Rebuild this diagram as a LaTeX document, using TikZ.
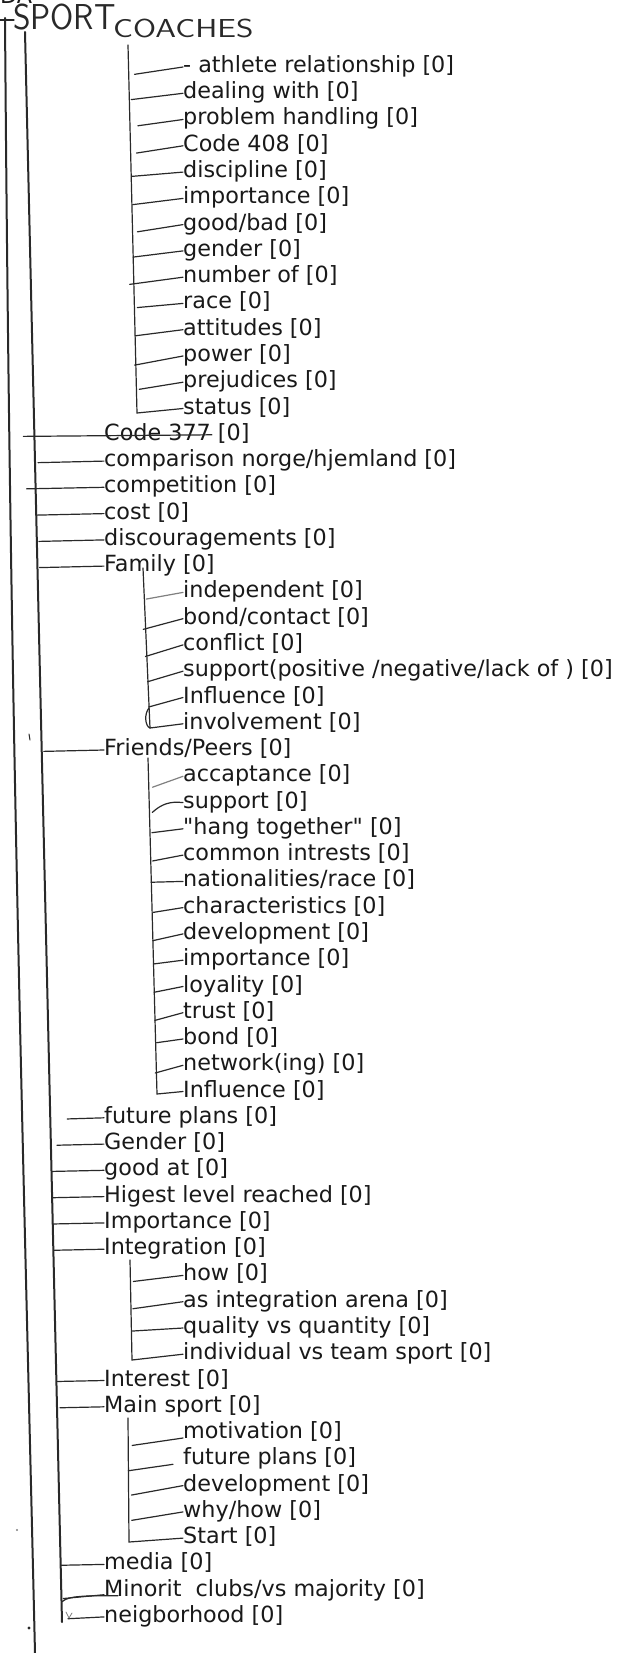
\documentclass[tikz,border=0pt]{standalone}
\usepackage{fontspec}
\setmainfont{DejaVu Sans}[Ligatures=TeXOff]
\usetikzlibrary{calc}
\definecolor{ink}{gray}{0.1}
\definecolor{pencil}{gray}{0.16}
\definecolor{faint}{gray}{0.5}

\tikzset{
  lbl/.style={anchor=west, inner sep=0pt, text height=16pt, text depth=5pt,
    text=ink, font=\fontsize{22.3}{26}\selectfont},
  hand/.style={anchor=base west, inner sep=0pt, text=pencil},
  pen/.style={draw=pencil, line width=1.2pt, line cap=round},
  spine/.style={draw=pencil, line width=2pt, line cap=round}
}

\begin{document}
\begin{tikzpicture}[x=1pt, y=-1pt]
        \fill[white] (0,0) rectangle (619,1653);
        \useasboundingbox (0,0) rectangle (619,1653);

        % handwritten heads
        \node[lbl, anchor=base west] (da) at (0,4) {DA};
        \node[hand, font=\fontsize{36}{36}\sffamily] (sport) at (13,30) {\scalebox{0.93}[1]{SPORT}};
        \node[hand, font=\fontsize{26}{26}\sffamily] (coaches) at (113,38) {\scalebox{1.28}[1]{COACHES}};

        % coaches
        \node[lbl] (ath) at (183,67) {- athlete relationship [0]};
        \node[lbl] (deal) at (183,93.3) {dealing with [0]};
        \node[lbl] (probl) at (183,119.5) {problem handling [0]};
        \node[lbl] (c408) at (183,145.8) {Code 408 [0]};
        \node[lbl] (disc) at (183,172.1) {discipline [0]};
        \node[lbl] (cimp) at (183,198.4) {importance [0]};
        \node[lbl] (goodbad) at (183,224.6) {good/bad [0]};
        \node[lbl] (cgender) at (183,250.9) {gender [0]};
        \node[lbl] (numof) at (183,277.2) {number of [0]};
        \node[lbl] (race) at (183,303.4) {race [0]};
        \node[lbl] (att) at (183,329.7) {attitudes [0]};
        \node[lbl] (power) at (183,356) {power [0]};
        \node[lbl] (prej) at (183,382.2) {prejudices [0]};
        \node[lbl] (status) at (183,408.5) {status [0]};

        \node[lbl] (c377) at (104,434.8) {Code 377 [0]};
        \node[lbl] (compar) at (104,461.1) {comparison norge/hjemland [0]};
        \node[lbl] (compet) at (104,487.3) {competition [0]};
        \node[lbl] (cost) at (104,513.6) {cost [0]};
        \node[lbl] (discour) at (104,539.9) {discouragements [0]};
        \node[lbl] (family) at (104,566.1) {Family [0]};

        % family
        \node[lbl] (indep) at (183,592.4) {independent [0]};
        \node[lbl] (bondc) at (183,618.7) {bond/contact [0]};
        \node[lbl] (confl) at (183,644.9) {conflict [0]};
        \node[lbl] (fsupp) at (183,671.2) {support(positive /negative/lack of ) [0]};
        \node[lbl] (finfl) at (183,697.5) {Influence [0]};
        \node[lbl] (involv) at (183,723.8) {involvement [0]};

        \node[lbl] (friends) at (104,750) {Friends/Peers [0]};

        % friends/peers
        \node[lbl] (accept) at (183,776.3) {accaptance [0]};
        \node[lbl] (psupp) at (183,802.6) {support [0]};
        \node[lbl] (hang) at (183,828.8) {"hang together" [0]};
        \node[lbl] (common) at (183,855.1) {common intrests [0]};
        \node[lbl] (nation) at (183,881.4) {nationalities/race [0]};
        \node[lbl] (charac) at (183,907.6) {characteristics [0]};
        \node[lbl] (pdevel) at (183,933.9) {development [0]};
        \node[lbl] (pimp) at (183,960.2) {importance [0]};
        \node[lbl] (loyal) at (183,986.5) {loyality [0]};
        \node[lbl] (trust) at (183,1012.7) {trust [0]};
        \node[lbl] (bond) at (183,1039) {bond [0]};
        \node[lbl] (netw) at (183,1065.3) {network(ing) [0]};
        \node[lbl] (pinfl) at (183,1091.5) {Influence [0]};

        \node[lbl] (future) at (104,1117.8) {future plans [0]};
        \node[lbl] (gender) at (104,1144.1) {Gender [0]};
        \node[lbl] (goodat) at (104,1170.3) {good at [0]};
        \node[lbl] (higest) at (104,1196.6) {Higest level reached [0]};
        \node[lbl] (import) at (104,1222.9) {Importance [0]};
        \node[lbl] (integ) at (104,1249.2) {Integration [0]};

        % integration
        \node[lbl] (how) at (183,1275.4) {how [0]};
        \node[lbl] (arena) at (183,1301.7) {as integration arena [0]};
        \node[lbl] (quality) at (183,1328) {quality vs quantity [0]};
        \node[lbl] (indiv) at (183,1354.2) {individual vs team sport [0]};

        \node[lbl] (interest) at (104,1380.5) {Interest [0]};
        \node[lbl] (mainsp) at (104,1406.8) {Main sport [0]};

        % main sport
        \node[lbl] (motiv) at (183,1433) {motivation [0]};
        \node[lbl] (mfuture) at (183,1459.3) {future plans [0]};
        \node[lbl] (mdevel) at (183,1485.6) {development [0]};
        \node[lbl] (whyhow) at (183,1511.9) {why/how [0]};
        \node[lbl] (start) at (183,1538.1) {Start [0]};

        \node[lbl] (media) at (104,1564.4) {media [0]};
        \node[lbl] (minorit) at (104,1590.7) {Minorit\ \ clubs/vs majority [0]};
        \node[lbl] (neigh) at (104,1616.9) {neigborhood [0]};

        % pen strokes
        \coordinate (l0a) at (5,18);
        \coordinate (l0b) at (35,1653);
        \coordinate (l1a) at (25,32);
        \coordinate (l1b) at (62,1622);
        \coordinate (ca) at (128,45);
        \coordinate (cb) at (137,413);
        \coordinate (fa) at (143,568);
        \coordinate (fb) at (150,728);
        \coordinate (pa) at (148,758);
        \coordinate (pb) at (157,1094);
        \coordinate (ia) at (130,1260);
        \coordinate (ib) at (132,1360);
        \coordinate (ma) at (128,1418);
        \coordinate (mb) at (129,1542);

        \draw[spine] (l0a) .. controls (10,700) and (22,1100) .. (l0b);
        \draw[pen] ($(l0a)+(-5,2)$) -- ($(l0a)+(9,2)$);
        \draw[spine] (l1a) -- (l1b);

        \draw[pen] (ca) -- (cb) -- (status.west);
        \draw[pen] ($(ca)!(ath.west)!(cb)+(6,6)$) -- (ath.west);
        \draw[pen] ($(ca)!(deal.west)!(cb)+(2,5)$) -- (deal.west);
        \draw[pen] ($(ca)!(probl.west)!(cb)+(8,5)$) -- (probl.west);
        \draw[pen] ($(ca)!(c408.west)!(cb)+(6,6)$) -- (c408.west);
        \draw[pen] ($(ca)!(disc.west)!(cb)+(1,3)$) -- (disc.west);
        \draw[pen] ($(ca)!(cimp.west)!(cb)+(1,5)$) -- (cimp.west);
        \draw[pen] ($(ca)!(goodbad.west)!(cb)+(5,6)$) -- (goodbad.west);
        \draw[pen] ($(ca)!(cgender.west)!(cb)+(0,5)$) -- (cgender.west);
        \draw[pen] ($(ca)!(numof.west)!(cb)+(-4,6)$) -- (numof.west);
        \draw[pen] ($(ca)!(race.west)!(cb)+(3,3)$) -- (race.west);
        \draw[pen] ($(ca)!(att.west)!(cb)+(0,5)$) -- (att.west);
        \draw[pen] ($(ca)!(power.west)!(cb)+(-1,8)$) -- (power.west);
        \draw[pen] ($(ca)!(prej.west)!(cb)+(3,6)$) -- (prej.west);

        \draw[pen] ($(l1a)!(c377.west)!(l1b)+(-11,0)$) -- ($(c377.west)!0.74!(c377.east)$);
        \draw[pen] ($(l1a)!(compar.west)!(l1b)+(3,0)$) -- (compar.west);
        \draw[pen] ($(l1a)!(compet.west)!(l1b)+(-9,0)$) -- (compet.west);
        \draw[pen] ($(l1a)!(cost.west)!(l1b)$) -- (cost.west);
        \draw[pen] ($(l1a)!(discour.west)!(l1b)+(2,0)$) -- (discour.west);
        \draw[pen] ($(l1a)!(family.west)!(l1b)+(2,0)$) -- (family.west);

        \draw[pen] (fa) -- (fb) -- (involv.west);
        \draw[pen, draw=faint] ($(fa)!(indep.west)!(fb)+(2,5)$) -- (indep.west);
        \draw[pen] ($(fa)!(bondc.west)!(fb)+(-2,9)$) -- (bondc.west);
        \draw[pen] ($(fa)!(confl.west)!(fb)+(-1,10)$) -- (confl.west);
        \draw[pen] ($(fa)!(fsupp.west)!(fb)+(0,9)$) -- (fsupp.west);
        \draw[pen] ($(fa)!(finfl.west)!(fb)+(0,8)$) -- (finfl.west);
        \draw[pen] ($(fb)+(-1,-20)$) .. controls ($(fb)+(-6,-14)$) and ($(fb)+(-5,-2)$) .. (fb);

        \draw[pen] ($(l1a)!(friends.west)!(l1b)+(2,0)$) -- (friends.west);
        \draw[pen] (pa) -- (pb) -- (pinfl.west);
        \draw[pen, draw=faint] ($(pa)!(accept.west)!(pb)+(4,10)$) -- (accept.west);
        \draw[pen] ($(pa)!(psupp.west)!(pb)+(3,9)$) to[bend left=25] (psupp.west);
        \draw[pen] ($(pa)!(hang.west)!(pb)+(2,3)$) -- (hang.west);
        \draw[pen] ($(pa)!(common.west)!(pb)+(2,5)$) -- (common.west);
        \draw[pen] ($(pa)!(nation.west)!(pb)$) -- (nation.west);
        \draw[pen] ($(pa)!(charac.west)!(pb)+(1,4)$) -- (charac.west);
        \draw[pen] ($(pa)!(pdevel.west)!(pb)+(0,6)$) -- (pdevel.west);
        \draw[pen] ($(pa)!(pimp.west)!(pb)+(0,3)$) -- (pimp.west);
        \draw[pen] ($(pa)!(loyal.west)!(pb)+(0,5)$) -- (loyal.west);
        \draw[pen] ($(pa)!(trust.west)!(pb)+(0,7)$) -- (trust.west);
        \draw[pen] ($(pa)!(bond.west)!(pb)+(1,3)$) -- (bond.west);
        \draw[pen] ($(pa)!(netw.west)!(pb)+(-1,7)$) -- (netw.west);

        \draw[pen] ($(l1a)!(future.west)!(l1b)+(17,0)$) -- (future.west);
        \draw[pen] ($(l1a)!(gender.west)!(l1b)+(6,0)$) -- (gender.west);
        \draw[pen] ($(l1a)!(goodat.west)!(l1b)+(1,0)$) -- (goodat.west);
        \draw[pen] ($(l1a)!(higest.west)!(l1b)+(1,0)$) -- (higest.west);
        \draw[pen] ($(l1a)!(import.west)!(l1b)$) -- (import.west);
        \draw[pen] ($(l1a)!(integ.west)!(l1b)+(1,0)$) -- (integ.west);

        \draw[pen] (ia) -- (ib) -- (indiv.west);
        \draw[pen] ($(ia)!(how.west)!(ib)+(3,5)$) -- (how.west);
        \draw[pen] ($(ia)!(arena.west)!(ib)+(2,6)$) -- (arena.west);
        \draw[pen] ($(ia)!(quality.west)!(ib)+(1,2)$) -- (quality.west);

        \draw[pen] ($(l1a)!(interest.west)!(l1b)+(1,0)$) -- (interest.west);
        \draw[pen] ($(l1a)!(mainsp.west)!(l1b)+(3,0)$) -- (mainsp.west);

        \draw[pen] (ma) -- (mb) -- (start.west);
        \draw[pen] ($(ma)!(motiv.west)!(mb)+(4,12)$) -- ($(motiv.west)+(0,5)$);
        \draw[pen] ($(ma)!(mfuture.west)!(mb)+(0,11)$) -- ($(mfuture.west)+(-10,5)$);
        \draw[pen] ($(ma)!(mdevel.west)!(mb)+(3,9)$) -- (mdevel.west);
        \draw[pen] ($(ma)!(whyhow.west)!(mb)+(3,8)$) -- (whyhow.west);

        \draw[pen] ($(l1a)!(media.west)!(l1b)$) -- (media.west);
        \coordinate (ms) at ($(l1a)!(minorit.west)!(l1b)+(1,10)$);
        \coordinate (me) at ($(minorit.west)+(14,5)$);
        \draw[pen] (ms) .. controls ($(ms)+(6,-6)$) and ($(me)+(-30,0)$) .. (me);
        \draw[pen] ($(ms)+(1,-3)$) -- ($(minorit.west)+(0,4)$);
        \draw[pen] ($(l1a)!(neigh.west)!(l1b)+(6,1)$) -- (neigh.west);
        \draw[pen, draw=faint, line width=0.8pt] ($(l1b)+(4,-10)$) -- ($(l1b)+(7,-4)$) -- ($(l1b)+(10,-9)$);

        % specks
        \draw[pen, line width=1pt] ($(l0a)+(24,716)$) -- ($(l0a)+(25,722)$);
        \fill[faint] ($(l0a)+(12,1512)$) circle (1.2);
        \fill[pencil] ($(l0b)+(-6,-25)$) circle (1.6);
\end{tikzpicture}
\end{document}
